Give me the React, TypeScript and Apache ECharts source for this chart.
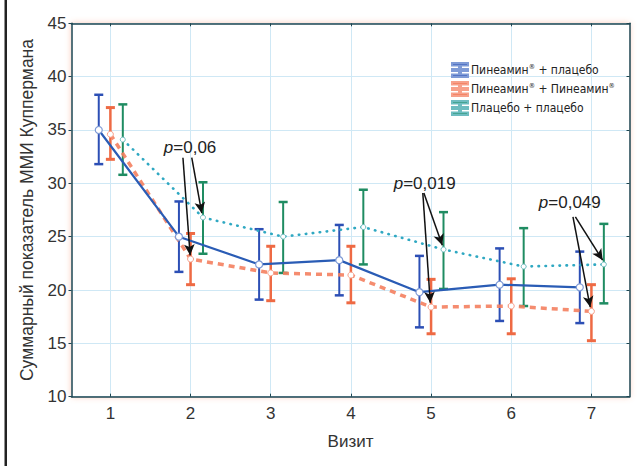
import React, { useEffect, useRef } from "react";
import * as echarts from "echarts";

const visits = [1, 2, 3, 4, 5, 6, 7];

const seriesNames = ["Пинеамин® + плацебо", "Пинеамин® + Пинеамин®", "Плацебо + плацебо"];

const blueMean = [35.0, 25.0, 22.4, 22.8, 19.8, 20.5, 20.25];
const blueLow = [31.8, 21.7, 19.1, 19.5, 16.5, 17.1, 16.9];
const blueHigh = [38.3, 28.3, 25.7, 26.1, 23.2, 23.9, 23.6];

const redMean = [34.6, 22.9, 21.6, 21.4, 18.4, 18.5, 18.0];
const redLow = [32.25, 20.5, 19.0, 18.8, 15.9, 15.9, 15.25];
const redHigh = [37.1, 25.3, 24.1, 24.1, 21.0, 21.05, 20.5];

const greenMean = [34.1, 26.8, 25.0, 25.9, 23.8, 22.2, 22.4];
const greenLow = [30.8, 23.4, 21.6, 22.4, 20.1, 18.5, 18.75];
const greenHigh = [37.4, 30.1, 28.25, 29.4, 27.3, 25.8, 26.2];

const offsets = [-0.145, 0, 0.155];

const pLabels = ["0,06", "0,019", "0,049"];
const pText = [[1.994, 33.4], [4.92, 29.95], [6.73, 28.2]];
const pStart = [[1.905, 32.4], [4.897, 29.1], [6.77, 26.85]];
const pStartB = [[2.015, 32.4], [4.91, 29.1], [6.8, 26.85]];
const pEndRed = [[1.995, 23.25], [4.99, 18.8], [6.985, 18.4]];
const pEndGreen = [[2.14, 27.2], [5.14, 24.2], [7.14, 22.8]];

const FONT = "'Liberation Sans', Arial, sans-serif";
const NARROW = "'Liberation Sans Narrow', 'DejaVu Sans Condensed', 'Liberation Sans', sans-serif";

const legendIcon = "path://M0,0H16V2.5H0Z M0,11.5H16V14H0Z M7,2.5H9V11.5H7Z M0,6H16V8H0Z";

function errorSeries(name: string, low: number[], high: number[], off: number, color: string, width: number) {
  return {
    type: "custom",
    name: name + " err",
    z: 2,
    silent: true,
    data: visits.map((v, i) => [v + off, low[i], high[i]]),
    encode: { x: 0, y: [1, 2] },
    renderItem: (params: any, api: any) => {
      const x = api.value(0);
      const top = api.coord([x, api.value(2)]);
      const bot = api.coord([x, api.value(1)]);
      const cap = 4.5;
      const style = { stroke: color, lineWidth: width };
      return {
        type: "group",
        children: [
          { type: "line", shape: { x1: top[0], y1: top[1], x2: bot[0], y2: bot[1] }, style },
          { type: "line", shape: { x1: top[0] - cap, y1: top[1], x2: top[0] + cap, y2: top[1] }, style: { ...style, lineWidth: width + 0.5 } },
          { type: "line", shape: { x1: bot[0] - cap, y1: bot[1], x2: bot[0] + cap, y2: bot[1] }, style: { ...style, lineWidth: width + 0.5 } },
        ],
      };
    },
  };
}

export default function App() {
  const ref = useRef<HTMLDivElement>(null);
  useEffect(() => {
    document.body.style.margin = "0";
    const chart = echarts.init(ref.current!, null, { renderer: "svg" });
    const axisLine = { show: true, lineStyle: { color: "#1d4652", width: 1.5 } };
    const option: any = {
      animation: false,
      backgroundColor: "#fff",
      grid: {
        left: 71.5,
        right: 11.5,
        top: 23.3,
        bottom: 69.3,
        show: true,
        backgroundColor: "#fff",
        borderWidth: 0,
        shadowColor: "rgba(245,130,90,0.45)",
        shadowBlur: 6,
      },
      legend: {
        orient: "vertical",
        left: 446,
        top: 57,
        itemWidth: 16,
        itemHeight: 14,
        itemGap: 3,
        selectedMode: false,
        formatter: (name: string) =>
          name
            .split("®")
            .map((part, i, arr) => "{a|" + part + "}" + (i < arr.length - 1 ? "{s|®}" : ""))
            .join(""),
        textStyle: {
          fontSize: 12,
          color: "#222",
          fontFamily: NARROW,
          padding: [0, 0, 0, -2],
          rich: {
            a: { fontSize: 12, color: "#222", fontFamily: NARROW },
            s: { fontSize: 7, color: "#222", fontFamily: NARROW, verticalAlign: "top", padding: [0, 0, 6, 0] },
          },
        },
        data: [
          { name: seriesNames[0], icon: legendIcon, itemStyle: { color: "#2c4fb5" } },
          { name: seriesNames[1], icon: legendIcon, itemStyle: { color: "#ee6a44" } },
          { name: seriesNames[2], icon: legendIcon, itemStyle: { color: "#1f8c62" } },
        ],
      },
      xAxis: [
        {
          type: "value",
          min: 0.515,
          max: 7.475,
          name: "Визит",
          nameLocation: "middle",
          nameGap: 36,
          nameTextStyle: { fontSize: 17, color: "#333", fontFamily: FONT },
          axisLine,
          axisTick: { show: true, inside: true, length: 3, customValues: visits, lineStyle: { color: "#1d4652" } },
          axisLabel: { customValues: visits, fontSize: 17, color: "#333", fontFamily: FONT, margin: 8 },
          splitLine: { show: true, lineStyle: { color: "#cfe8f5", width: 1, type: "solid" } },
        },
        {
          type: "value",
          position: "top",
          min: 0.515,
          max: 7.475,
          axisLine,
          axisTick: { show: true, inside: true, length: 3, customValues: visits, lineStyle: { color: "#1d4652" } },
          axisLabel: { show: false, customValues: visits },
          splitLine: { show: false },
        },
      ],
      yAxis: [
        {
          type: "value",
          min: 10,
          max: 45,
          interval: 5,
          name: "Суммарный показатель ММИ Куппермана",
          nameLocation: "middle",
          nameGap: 36,
          nameTextStyle: { fontSize: 17.5, color: "#333", fontFamily: FONT },
          axisLine,
          axisTick: { show: true, inside: false, length: 3, lineStyle: { color: "#1d4652" } },
          axisLabel: { fontSize: 17, color: "#333", fontFamily: FONT, margin: 5 },
          splitLine: { show: true, lineStyle: { color: "#cfe8f5", width: 1, type: "solid" } },
        },
        {
          type: "value",
          position: "right",
          min: 10,
          max: 45,
          interval: 5,
          axisLine,
          axisTick: { show: true, inside: true, length: 3, lineStyle: { color: "#1d4652" } },
          axisLabel: { show: false },
          splitLine: { show: false },
        },
      ],
      graphic: [
        { type: "rect", shape: { x: 4.5, y: 0, width: 2.5, height: 466 }, style: { fill: "#222" } },
      ],
      series: [
        errorSeries(seriesNames[1], redLow, redHigh, offsets[1], "#ee6a44", 2.5),
        errorSeries(seriesNames[2], greenLow, greenHigh, offsets[2], "#1f8c62", 2),
        errorSeries(seriesNames[0], blueLow, blueHigh, offsets[0], "#2c4fb5", 2),
        {
          type: "line",
          name: seriesNames[1],
          z: 3,
          data: visits.map((v, i) => [v + offsets[1], redMean[i]]),
          lineStyle: { color: "#f4805f", width: 3.5, type: [6, 5], opacity: 0.9 },
          itemStyle: { color: "#fff", borderColor: "#f7a08a", borderWidth: 1 },
          symbol: "circle",
          symbolSize: 6,
          showSymbol: true,
        },
        {
          type: "line",
          name: seriesNames[2],
          z: 3,
          data: visits.map((v, i) => [v + offsets[2], greenMean[i]]),
          lineStyle: { color: "#2fa8c2", width: 2.6, type: [0.5, 6.5], cap: "round" },
          itemStyle: { color: "#fff", borderColor: "#6dbcc0", borderWidth: 1 },
          symbol: "circle",
          symbolSize: 5,
          showSymbol: true,
        },
        {
          type: "line",
          name: seriesNames[0],
          z: 4,
          data: visits.map((v, i) => [v + offsets[0], blueMean[i]]),
          lineStyle: { color: "#2a5cb5", width: 2.2 },
          itemStyle: { color: "#fff", borderColor: "#7f9bd6", borderWidth: 1.2 },
          symbol: "circle",
          symbolSize: 7,
          showSymbol: true,
          markLine: {
            silent: true,
            symbol: ["none", "arrow"],
            symbolSize: [8, 11],
            label: { show: false },
            lineStyle: { color: "#111", width: 1.5, type: "solid" },
            data: [
              ...pStart.map((s, i) => [{ coord: s }, { coord: pEndRed[i] }]),
              ...pStartB.map((s, i) => [{ coord: s }, { coord: pEndGreen[i] }]),
            ],
          },
          markPoint: {
            silent: true,
            symbol: "circle",
            symbolSize: 0,
            data: pText.map((c, i) => ({
              coord: c,
              label: {
                show: true,
                position: "inside",
                formatter: "{i|p}{n|=" + pLabels[i] + "}",
                rich: {
                  i: { fontSize: 17, fontStyle: "italic", color: "#222", fontFamily: FONT },
                  n: { fontSize: 17, color: "#222", fontFamily: FONT },
                },
              },
            })),
          },
        },
      ],
    };
    chart.setOption(option);
    return () => chart.dispose();
  }, []);
  return <div ref={ref} style={{ width: 641, height: 466 }} />;
}
